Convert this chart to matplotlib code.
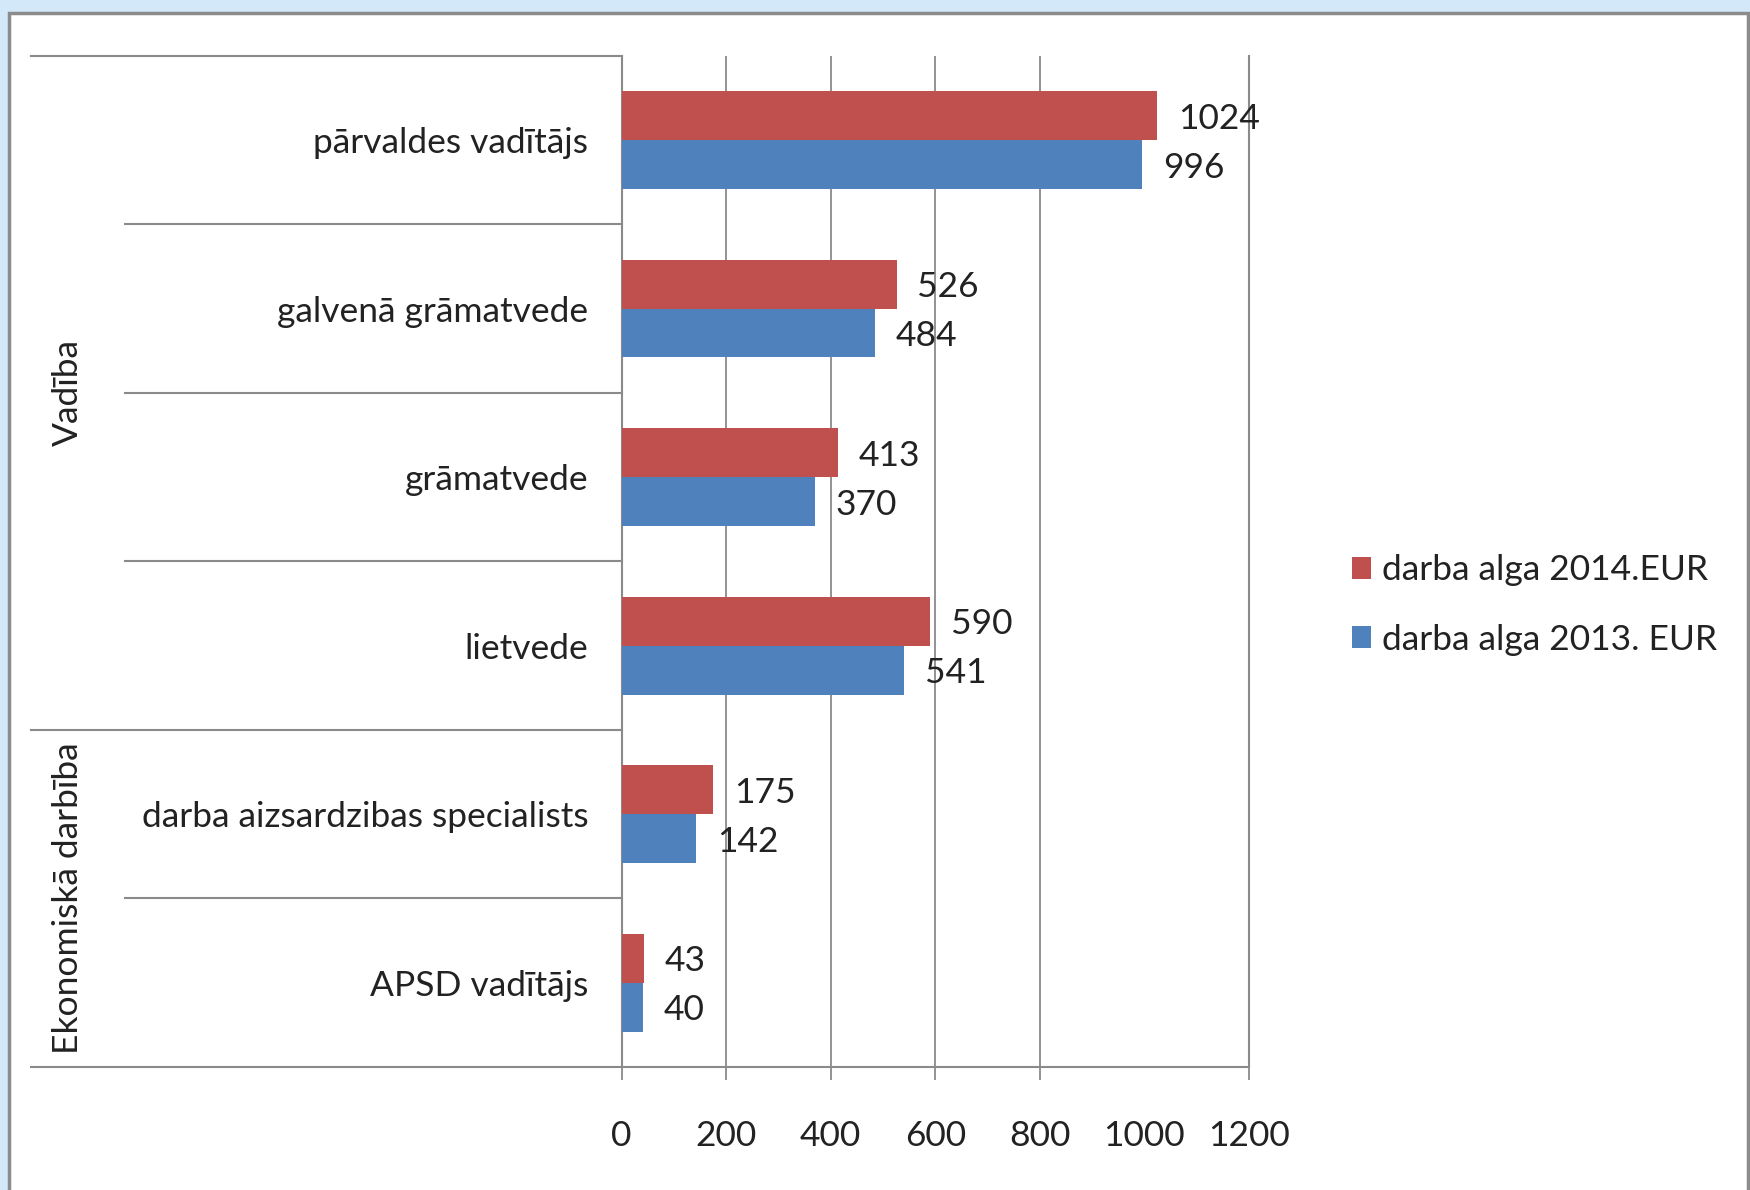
# Salary comparison 2013 / 2014, horizontal grouped bars with category table

import numpy as np
import matplotlib.pyplot as plt
from matplotlib.patches import Rectangle
from matplotlib.transforms import blended_transform_factory

categories = ['pārvaldes vadītājs', 'galvenā grāmatvede', 'grāmatvede',
              'lietvede', 'darba aizsardzibas specialists', 'APSD vadītājs']
alga_2014 = [1024, 526, 413, 590, 175, 43]
alga_2013 = [996, 484, 370, 541, 142, 40]
series_names = ['darba alga 2014.EUR', 'darba alga 2013. EUR']
groups = ['Vadība', 'Ekonomiskā darbība']
group_sizes = [4, 2]
x_ticks = [0, 200, 400, 600, 800, 1000, 1200]

RED = '#C0504D'
BLUE = '#4F81BD'
GRID = '#8A8A8A'
TXT = '#222222'
FS = 25.5


def _main():
    plt.rcParams['font.family'] = ['Lato', 'DejaVu Sans']

    fig = plt.figure(figsize=(17.5, 11.9), dpi=100, facecolor='#D3E9F9')
    # white panel with grey frame, kept behind the axes
    fig.patches.append(Rectangle((9 / 1750, -0.02), 1739 / 1750, 1.02 - 13 / 1190,
                                 transform=fig.transFigure, facecolor='white',
                                 edgecolor='#8C8C8C', lw=2.5, zorder=-10))

    ax = fig.add_axes([0.3552, 0.1034, 0.3585, 0.8497])
    ax.set_facecolor('none')

    y = np.arange(len(categories))
    h = 0.29
    b1 = ax.barh(y - h / 2, alga_2014, height=h, color=RED, zorder=3)
    b2 = ax.barh(y + h / 2, alga_2013, height=h, color=BLUE, zorder=3)
    labels = ax.bar_label(b1, padding=15, fontsize=FS, color=TXT)
    labels += ax.bar_label(b2, padding=15, fontsize=FS, color=TXT)
    for t in labels:
        t.set_va('center_baseline')

    ax.set_xlim(0, 1200)
    ax.set_ylim(len(categories) - 0.5, -0.5)

    ax.set_xticks(x_ticks)
    ax.set_xticklabels([str(t) for t in x_ticks])
    ax.tick_params(axis='x', length=9.5, width=1.3, color=GRID, labelsize=FS,
                   labelcolor=TXT, pad=29)
    ax.xaxis.grid(True, color=GRID, lw=1.3)
    ax.set_axisbelow(True)
    # the 1000 line has no gridline / tick in the original
    t1000 = ax.xaxis.get_major_ticks()[5]
    t1000.tick1line.set_visible(False)
    t1000.gridline.set_visible(False)

    ax.set_yticks(y)
    ax.set_yticklabels(categories)
    ax.tick_params(axis='y', length=0, labelsize=FS, labelcolor=TXT, pad=24)

    ax.spines['top'].set_visible(False)
    for s in ('left', 'right', 'bottom'):
        ax.spines[s].set_color(GRID)
        ax.spines[s].set_linewidth(1.5)

    # category table lines on the left
    tr = blended_transform_factory(ax.transAxes, ax.transData)
    x_long, x_short = -0.941, -0.7915
    bounds = np.cumsum([0] + group_sizes)
    for i in range(len(categories) + 1):
        yb = i - 0.5
        xs = x_long if i in bounds else x_short
        ax.plot([xs, 0], [yb, yb], transform=tr, clip_on=False,
                color=GRID, lw=1.5)
    for g, start, size in zip(groups, bounds[:-1], group_sizes):
        ax.text(-0.883, start - 0.5 + size / 2, g, transform=tr, rotation=90,
                ha='center', va='center', fontsize=FS, color=TXT)

    ax.legend([b1, b2], series_names, loc='center left',
              bbox_to_anchor=(1320 / 1750, 1 - 605 / 1190),
              bbox_transform=fig.transFigure, frameon=False, fontsize=FS,
              handlelength=0.55, handleheight=0.6, handletextpad=0.3,
              labelspacing=1.05, labelcolor=TXT)

    fig.savefig('out.png', dpi=100, facecolor=fig.get_facecolor())


if __name__ == '__main__':
    _main()
